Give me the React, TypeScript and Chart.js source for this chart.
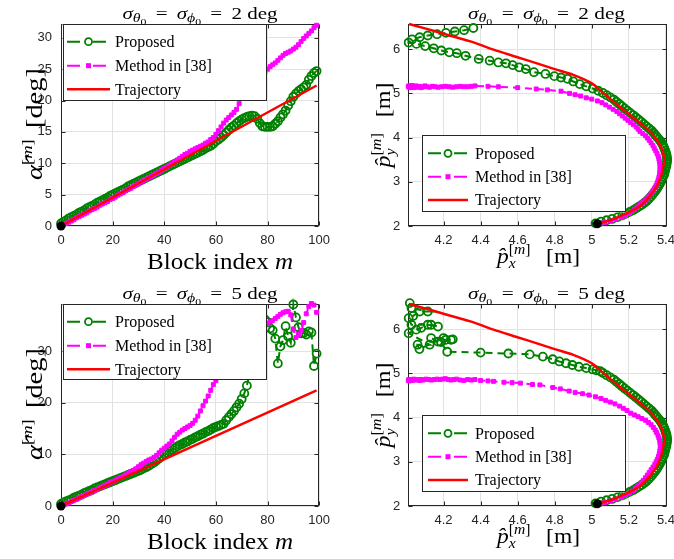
import React, { useEffect, useRef } from 'react';
import { Chart, registerables } from 'chart.js';

Chart.register(...registerables);

// ---------------- data ----------------
const blockIndex: number[] = Array.from({ length: 100 }, (_, i) => i);

const proposedAlpha2 = [
  0.4, 0.7, 0.9, 1.2, 1.4, 1.6, 1.8, 2.1, 2.3, 2.5,
  2.8, 3.0, 3.2, 3.4, 3.7, 3.9, 4.1, 4.3, 4.5, 4.8,
  5.0, 5.2, 5.4, 5.6, 5.8, 6.0, 6.3, 6.5, 6.7, 6.9,
  7.1, 7.3, 7.5, 7.7, 7.9, 8.1, 8.3, 8.5, 8.7, 8.9,
  9.1, 9.3, 9.5, 9.7, 9.9, 10.1, 10.3, 10.5, 10.7, 10.9,
  11.1, 11.3, 11.5, 11.7, 11.9, 12.1, 12.4, 12.6, 12.8, 13.1,
  13.5, 13.8, 14.1, 14.5, 14.9, 15.3, 15.7, 16.0, 16.4, 16.7,
  17.0, 17.2, 17.4, 17.5, 17.6, 17.5, 17.1, 16.4, 15.9, 15.8,
  15.8, 15.8, 15.9, 16.3, 16.7, 17.3, 17.8, 18.4, 19.2, 19.9,
  20.6, 21.1, 21.5, 21.8, 22.1, 22.5, 23.3, 23.9, 24.4, 24.7,
];
const methodAlpha2 = [
  0.0, 0.2, 0.4, 0.6, 0.8, 1.0, 1.3, 1.5, 1.7, 1.9,
  2.1, 2.4, 2.6, 2.8, 3.0, 3.3, 3.5, 3.7, 3.9, 4.2,
  4.4, 4.6, 4.9, 5.1, 5.3, 5.6, 5.8, 6.0, 6.3, 6.5,
  6.7, 7.0, 7.2, 7.4, 7.7, 7.9, 8.1, 8.4, 8.6, 8.9,
  9.2, 9.4, 9.7, 9.9, 10.2, 10.5, 10.8, 11.1, 11.4, 11.6,
  11.9, 12.1, 12.3, 12.5, 12.7, 12.9, 13.2, 13.4, 13.8, 14.1,
  14.6, 15.2, 15.8, 16.4, 16.9, 17.3, 17.7, 18.1, 18.6, 19.5,
  20.4, 21.1, 21.7, 22.2, 22.7, 23.1, 23.5, 23.8, 24.2, 24.6,
  25.0, 25.4, 25.7, 26.0, 26.4, 26.8, 27.2, 27.5, 27.7, 27.9,
  28.2, 28.5, 28.9, 29.4, 29.9, 30.3, 30.7, 31.1, 31.6, 32.0,
];
const proposedAlpha5 = [
  0.4, 0.7, 0.9, 1.1, 1.3, 1.6, 1.8, 2.0, 2.2, 2.5,
  2.7, 2.9, 3.1, 3.4, 3.6, 3.8, 4.0, 4.2, 4.4, 4.6,
  4.8, 5.0, 5.2, 5.4, 5.6, 5.8, 6.0, 6.2, 6.4, 6.6,
  6.8, 7.0, 7.3, 7.5, 7.8, 8.1, 8.4, 8.8, 9.2, 9.6,
  10.0, 10.3, 10.6, 10.9, 11.2, 11.5, 11.8, 12.0, 12.3, 12.5,
  12.8, 13.0, 13.3, 13.5, 13.8, 14.0, 14.3, 14.5, 14.8, 15.1,
  15.3, 15.5, 15.7, 15.9, 16.6, 17.2, 17.8, 18.4, 19.1, 19.8,
  20.7, 21.8, 23.3, 25.5, 28.0, 30.5, 32.8, 34.5, 35.5, 36.1,
  35.6, 34.4, 34.0, 32.4, 27.6, 30.9, 32.1, 34.8, 32.8, 31.6,
  39.0, 36.5, 34.6, 33.4, 33.5, 33.2, 33.8, 33.6, 27.1, 29.5,
];
const methodAlpha5 = [
  0.0, 0.2, 0.4, 0.6, 0.9, 1.1, 1.3, 1.6, 1.8, 2.0,
  2.3, 2.5, 2.7, 3.0, 3.2, 3.5, 3.7, 4.0, 4.2, 4.5,
  4.7, 5.0, 5.2, 5.5, 5.7, 6.0, 6.3, 6.6, 6.9, 7.2,
  7.6, 8.0, 8.3, 8.6, 8.9, 9.1, 9.4, 9.8, 10.3, 10.8,
  11.2, 11.6, 12.0, 12.6, 13.3, 13.9, 14.3, 14.7, 15.0, 15.3,
  15.6, 16.0, 16.6, 17.4, 18.4, 19.4, 20.3, 21.3, 22.4, 23.5,
  24.3, 25.0, 25.7, 26.4, 27.1, 27.8, 28.5, 29.2, 29.9, 30.5,
  31.1, 31.6, 32.1, 32.6, 33.0, 33.4, 33.8, 34.2, 34.6, 35.0,
  35.3, 35.6, 35.9, 36.3, 36.7, 37.1, 37.4, 37.6, 37.7, 37.0,
  34.2, 32.6, 33.2, 34.0, 35.5, 37.2, 38.6, 39.2, 38.9, 37.5,
];
const trajectoryM = [0, 99];
const trajectoryAlpha = [0, 22.4];

const trajectoryPx = [5.03, 5.10, 5.19, 5.26, 5.31, 5.35, 5.375, 5.388, 5.392, 5.385, 5.374, 5.35, 5.31, 5.24, 5.15, 5.064, 5.0, 4.9, 4.8, 4.7, 4.59, 4.47, 4.35, 4.2, 4.1, 4.014];
const trajectoryPy = [2.05, 2.13, 2.29, 2.45, 2.66, 2.9, 3.15, 3.4, 3.5, 3.65, 3.78, 3.95, 4.15, 4.40, 4.70, 5.0, 5.23, 5.42, 5.55, 5.685, 5.83, 5.99, 6.17, 6.35, 6.47, 6.57];

const proposedPx2 = [
  5.02, 5.05, 5.08, 5.11, 5.14, 5.165, 5.185, 5.205, 5.225, 5.24,
  5.255, 5.27, 5.283, 5.295, 5.307, 5.318, 5.328, 5.337, 5.346, 5.354,
  5.361, 5.368, 5.374, 5.379, 5.384, 5.39, 5.393, 5.396, 5.399, 5.402,
  5.404, 5.406, 5.407, 5.405, 5.403, 5.40, 5.396, 5.391, 5.386, 5.38,
  5.372, 5.363, 5.353, 5.343, 5.333, 5.322, 5.308, 5.294, 5.28, 5.266,
  5.252, 5.237, 5.222, 5.207, 5.192, 5.177, 5.162, 5.148, 5.133, 5.119,
  5.10, 5.08, 5.06, 5.035, 5.005, 4.97, 4.935, 4.90, 4.869, 4.834,
  4.798, 4.75, 4.688, 4.644, 4.608, 4.573, 4.537, 4.496, 4.449, 4.39,
  4.319, 4.272, 4.231, 4.188, 4.147, 4.101, 4.054, 4.012, 4.03, 4.071,
  4.115, 4.165, 4.213, 4.261, 4.311, 4.361,
];
const proposedPy2 = [
  2.06, 2.10, 2.13, 2.16, 2.20, 2.24, 2.28, 2.32, 2.36, 2.40,
  2.44, 2.48, 2.52, 2.56, 2.61, 2.66, 2.71, 2.76, 2.81, 2.86,
  2.91, 2.96, 3.01, 3.06, 3.11, 3.16, 3.21, 3.26, 3.31, 3.36,
  3.41, 3.46, 3.51, 3.56, 3.61, 3.66, 3.71, 3.76, 3.81, 3.86,
  3.91, 3.96, 4.01, 4.06, 4.11, 4.16, 4.21, 4.26, 4.31, 4.36,
  4.41, 4.46, 4.51, 4.56, 4.61, 4.66, 4.71, 4.76, 4.81, 4.86,
  4.91, 4.96, 5.01, 5.06, 5.11, 5.16, 5.21, 5.27, 5.33, 5.36,
  5.39, 5.44, 5.48, 5.55, 5.59, 5.64, 5.68, 5.70, 5.74, 5.78,
  5.85, 5.91, 5.93, 5.97, 6.02, 6.07, 6.12, 6.15, 6.22, 6.27,
  6.31, 6.34, 6.37, 6.40, 6.43, 6.48,
];
const methodPx2 = [
  5.04, 5.07, 5.10, 5.13, 5.16, 5.18, 5.20, 5.215, 5.23, 5.245,
  5.26, 5.275, 5.288, 5.30, 5.31, 5.32, 5.33, 5.34, 5.347, 5.353,
  5.358, 5.362, 5.365, 5.367, 5.368, 5.368, 5.367, 5.365, 5.362, 5.358,
  5.352, 5.345, 5.337, 5.33, 5.32, 5.31, 5.30, 5.29, 5.275, 5.26,
  5.25, 5.24, 5.225, 5.21, 5.195, 5.18, 5.165, 5.15, 5.135, 5.115,
  5.095, 5.075, 5.055, 5.03, 5.00, 4.97, 4.94, 4.91, 4.88, 4.834,
  4.76, 4.70, 4.60, 4.496, 4.44, 4.37, 4.35, 4.33, 4.31, 4.29,
  4.27, 4.25, 4.23, 4.21, 4.19, 4.17, 4.155, 4.14, 4.125, 4.11,
  4.10, 4.09, 4.08, 4.07, 4.06, 4.05, 4.045, 4.04, 4.035, 4.03,
  4.025, 4.02, 4.018, 4.015, 4.012, 4.01,
];
const methodPy2 = [
  2.05, 2.08, 2.11, 2.15, 2.19, 2.23, 2.28, 2.33, 2.38, 2.43,
  2.48, 2.53, 2.58, 2.63, 2.68, 2.74, 2.80, 2.86, 2.92, 2.98,
  3.04, 3.10, 3.16, 3.22, 3.28, 3.34, 3.40, 3.46, 3.52, 3.58,
  3.64, 3.70, 3.76, 3.82, 3.88, 3.94, 3.99, 4.04, 4.09, 4.14,
  4.19, 4.24, 4.29, 4.34, 4.39, 4.44, 4.49, 4.54, 4.59, 4.64,
  4.69, 4.74, 4.79, 4.83, 4.87, 4.90, 4.94, 4.97, 5.00, 5.05,
  5.08, 5.10, 5.13, 5.15, 5.16, 5.17, 5.16, 5.15, 5.15, 5.16,
  5.15, 5.14, 5.15, 5.16, 5.15, 5.14, 5.15, 5.16, 5.14, 5.15,
  5.17, 5.15, 5.13, 5.16, 5.14, 5.17, 5.15, 5.13, 5.16, 5.18,
  5.14, 5.16, 5.13, 5.17, 5.15, 5.16,
];
const proposedPx5 = [
  5.02, 5.05, 5.08, 5.11, 5.14, 5.165, 5.185, 5.205, 5.225, 5.24,
  5.255, 5.27, 5.283, 5.295, 5.307, 5.318, 5.328, 5.337, 5.346, 5.354,
  5.361, 5.368, 5.374, 5.379, 5.384, 5.39, 5.393, 5.396, 5.399, 5.402,
  5.404, 5.406, 5.407, 5.405, 5.403, 5.40, 5.396, 5.391, 5.386, 5.38,
  5.372, 5.363, 5.353, 5.343, 5.333, 5.322, 5.308, 5.294, 5.28, 5.266,
  5.252, 5.237, 5.222, 5.207, 5.192, 5.177, 5.162, 5.148, 5.133, 5.119,
  5.10, 5.08, 5.06, 5.046, 5.025, 5.005, 4.97, 4.93, 4.895, 4.861,
  4.825, 4.789, 4.736, 4.665, 4.55, 4.40, 4.22, 4.186, 4.212, 4.24,
  4.25, 4.17, 4.133, 4.20, 4.07, 4.06, 4.125, 4.012, 4.053, 4.08,
  4.115, 4.17, 4.133, 4.027, 4.012, 4.036, 4.071, 4.115, 4.027, 4.018,
];
const proposedPy5 = [
  2.06, 2.10, 2.13, 2.16, 2.20, 2.24, 2.28, 2.32, 2.36, 2.40,
  2.44, 2.48, 2.52, 2.56, 2.61, 2.66, 2.71, 2.76, 2.81, 2.86,
  2.91, 2.96, 3.01, 3.06, 3.11, 3.16, 3.21, 3.26, 3.31, 3.36,
  3.41, 3.46, 3.51, 3.56, 3.61, 3.66, 3.71, 3.76, 3.81, 3.86,
  3.91, 3.96, 4.01, 4.06, 4.11, 4.16, 4.21, 4.26, 4.31, 4.36,
  4.41, 4.46, 4.51, 4.56, 4.61, 4.66, 4.71, 4.76, 4.81, 4.86,
  4.91, 4.96, 5.01, 5.05, 5.07, 5.09, 5.12, 5.15, 5.19, 5.23,
  5.27, 5.32, 5.38, 5.43, 5.45, 5.47, 5.49, 5.71, 5.76, 5.76,
  5.77, 5.72, 5.80, 5.80, 5.55, 5.65, 5.65, 5.91, 5.99, 6.03,
  6.10, 6.06, 6.10, 6.10, 6.25, 6.30, 6.40, 6.40, 6.48, 6.59,
];
const methodPx5 = [
  5.04, 5.07, 5.10, 5.13, 5.16, 5.18, 5.20, 5.22, 5.235, 5.25,
  5.265, 5.278, 5.29, 5.30, 5.31, 5.32, 5.33, 5.34, 5.347, 5.354,
  5.36, 5.364, 5.367, 5.369, 5.37, 5.368, 5.366, 5.362, 5.357, 5.35,
  5.342, 5.332, 5.32, 5.305, 5.29, 5.27, 5.25, 5.23, 5.21, 5.19,
  5.17, 5.15, 5.125, 5.10, 5.075, 5.05, 5.02, 4.985, 4.95, 4.91,
  4.878, 4.83, 4.79, 4.72, 4.68, 4.615, 4.57, 4.526, 4.47, 4.44,
  4.40, 4.37, 4.35, 4.33, 4.31, 4.29, 4.27, 4.255, 4.24, 4.225,
  4.21, 4.195, 4.18, 4.165, 4.15, 4.135, 4.12, 4.105, 4.09, 4.08,
  4.07, 4.06, 4.05, 4.04, 4.035, 4.03, 4.025, 4.02, 4.016, 4.013,
  4.01,
];
const methodPy5 = [
  2.05, 2.08, 2.11, 2.15, 2.19, 2.24, 2.29, 2.34, 2.40, 2.46,
  2.52, 2.58, 2.64, 2.70, 2.76, 2.82, 2.88, 2.94, 3.00, 3.06,
  3.12, 3.18, 3.24, 3.30, 3.36, 3.42, 3.48, 3.54, 3.60, 3.66,
  3.72, 3.78, 3.84, 3.89, 3.94, 3.98, 4.02, 4.06, 4.10, 4.16,
  4.21, 4.26, 4.31, 4.35, 4.39, 4.43, 4.47, 4.51, 4.54, 4.57,
  4.60, 4.65, 4.68, 4.74, 4.75, 4.78, 4.79, 4.80, 4.82, 4.83,
  4.84, 4.86, 4.85, 4.86, 4.84, 4.85, 4.87, 4.86, 4.85, 4.86,
  4.88, 4.87, 4.86, 4.87, 4.86, 4.85, 4.86, 4.87, 4.85, 4.86,
  4.84, 4.86, 4.85, 4.87, 4.85, 4.84, 4.86, 4.85, 4.83, 4.86,
  4.84,
];

const legendLabels = ['Proposed', 'Method in [38]', 'Trajectory'];

// ---------------- styling ----------------
const GREEN = '#008000';
const MAGENTA = '#ff00ff';
const RED = '#ff0000';
const AXIS = '#262626';
const GRID = '#e2e2e2';
const SERIF = '"Liberation Serif", "Times New Roman", serif';
const SANS = '"Liberation Sans", Arial, sans-serif';

type Seg = { t?: string; s?: number; it?: boolean; dy?: number; sp?: number; mark?: boolean; back?: boolean; end?: boolean };
type TextPos = { x: number; y: number; w: number; rot?: boolean };
type LegendSpec = { x: number; y: number; w: number; h: number; rows: number[]; x1: number; x2: number; tx: number };
type Area = { l: number; t: number; r: number; b: number };
type PanelSpec = {
  left: number; top: number; width: number; height: number; area: Area;
  xMin: number; xMax: number; xStep: number; yMin: number; yMax: number; yStep: number;
  xDecimals: boolean; yPad: number;
  datasets: any[];
  title: Seg[]; titlePos: TextPos; xlabel: Seg[]; xlabelPos: TextPos; ylabel: Seg[]; ylabelPos: TextPos;
  legend: LegendSpec;
};

const pts = (xs: number[], ys: number[]) => xs.map((x, i) => ({ x, y: ys[i] }));

function seriesSets(prop: any[], meth: any[], traj: any[], start: any[]) {
  return [
    { label: 'start', data: start, showLine: false, pointRadius: 4.5, pointBackgroundColor: '#000', pointBorderColor: '#000', pointBorderWidth: 0, clip: false },
    { label: legendLabels[2], data: traj, borderColor: RED, borderWidth: 2.5, pointRadius: 0, tension: 0.3, clip: 6 },
    { label: legendLabels[1], data: meth, borderColor: MAGENTA, borderWidth: 2, borderDash: [7, 5], pointStyle: 'rect', pointRadius: 2.8, pointBorderWidth: 1, pointBackgroundColor: MAGENTA, pointBorderColor: MAGENTA, clip: 6 },
    { label: legendLabels[0], data: prop, borderColor: GREEN, borderWidth: 2, borderDash: [7, 5], pointStyle: 'circle', pointRadius: 4, pointBorderWidth: 1.8, pointBackgroundColor: 'rgba(0,0,0,0)', pointBorderColor: GREEN, clip: 6 },
  ];
}

function titleSegs(n: string): Seg[] {
  return [
    { t: 'σ', s: 16, it: true }, { t: 'θ', s: 12, it: true, dy: 3 }, { t: '0', s: 9, dy: 6 },
    { sp: 7 }, { t: '=', s: 16 }, { sp: 7 },
    { t: 'σ', s: 16, it: true }, { t: 'ϕ', s: 12, it: true, dy: 3 }, { t: '0', s: 9, dy: 6 },
    { sp: 7 }, { t: '=', s: 16 }, { sp: 7 },
    { t: n, s: 16 }, { sp: 4 }, { t: 'deg', s: 16 },
  ];
}
const xlabelBlock: Seg[] = [{ t: 'Block index ', s: 24 }, { t: 'm', s: 24, it: true }];
const ylabelAlpha: Seg[] = [
  { t: 'α\u0302', s: 23, it: true },
  { t: '[', s: 15, dy: -10 }, { t: 'm', s: 15, it: true, dy: -10 }, { t: ']', s: 15, dy: -10 },
  { sp: 9 }, { t: '[deg]', s: 23 },
];
function posLabel(c: string): Seg[] {
  return [
    { t: 'p\u0302', s: 21, it: true },
    { mark: true }, { t: c, s: 14, it: true, dy: 5 }, { back: true },
    { t: '[', s: 14, dy: -9 }, { t: 'm', s: 14, it: true, dy: -9 }, { t: ']', s: 14, dy: -9 }, { end: true },
    { sp: 14 }, { t: '[m]', s: 21 },
  ];
}

const LEFT_AREA: Area = { l: 61, t: 24, r: 325, b: 226 };
const RIGHT_AREA: Area = { l: 71.3, t: 24, r: 334, b: 226 };
const LEFT_LEGEND: LegendSpec = { x: 62.5, y: 24, w: 204, h: 77, rows: [41.7, 65.7, 89.3], x1: 67, x2: 110, tx: 115 };
const RIGHT_LEGEND: LegendSpec = { x: 84.7, y: 135, w: 204.3, h: 77.3, rows: [153.3, 176.7, 200], x1: 91, x2: 131, tx: 138 };

const startAlpha = [{ x: trajectoryM[0], y: trajectoryAlpha[0] }];
const startPos = [{ x: trajectoryPx[0], y: trajectoryPy[0] }];

const SPECS: PanelSpec[] = [
  {
    left: 0, top: 0, width: 337, height: 280, area: LEFT_AREA,
    xMin: 0, xMax: 100, xStep: 20, yMin: 0, yMax: 32.2, yStep: 5, xDecimals: false, yPad: 9,
    datasets: seriesSets(pts(blockIndex, proposedAlpha2), pts(blockIndex, methodAlpha2), pts(trajectoryM, trajectoryAlpha), startAlpha),
    title: titleSegs('2'), titlePos: { x: 200, y: 18.5, w: 155 },
    xlabel: xlabelBlock, xlabelPos: { x: 220, y: 269, w: 146 },
    ylabel: ylabelAlpha, ylabelPos: { x: 42, y: 124, w: 112, rot: true },
    legend: LEFT_LEGEND,
  },
  {
    left: 337, top: 0, width: 345, height: 280, area: RIGHT_AREA,
    xMin: 4.01, xMax: 5.405, xStep: 0.2, yMin: 2, yMax: 6.57, yStep: 1, xDecimals: true, yPad: 8,
    datasets: seriesSets(pts(proposedPx2, proposedPy2), pts(methodPx2, methodPy2), pts(trajectoryPx, trajectoryPy), startPos),
    title: titleSegs('2'), titlePos: { x: 209.5, y: 18.5, w: 157 },
    xlabel: posLabel('x'), xlabelPos: { x: 201.5, y: 263, w: 83 },
    ylabel: posLabel('y'), ylabelPos: { x: 53, y: 125, w: 85, rot: true },
    legend: RIGHT_LEGEND,
  },
  {
    left: 0, top: 280, width: 337, height: 279, area: LEFT_AREA,
    xMin: 0, xMax: 100, xStep: 20, yMin: 0, yMax: 39.1, yStep: 10, xDecimals: false, yPad: 9,
    datasets: seriesSets(pts(blockIndex, proposedAlpha5), pts(blockIndex, methodAlpha5), pts(trajectoryM, trajectoryAlpha), startAlpha),
    title: titleSegs('5'), titlePos: { x: 200, y: 18.5, w: 155 },
    xlabel: xlabelBlock, xlabelPos: { x: 220, y: 269, w: 146 },
    ylabel: ylabelAlpha, ylabelPos: { x: 42, y: 124, w: 112, rot: true },
    legend: { ...LEFT_LEGEND, h: 76 },
  },
  {
    left: 337, top: 280, width: 345, height: 279, area: RIGHT_AREA,
    xMin: 4.01, xMax: 5.405, xStep: 0.2, yMin: 2, yMax: 6.57, yStep: 1, xDecimals: true, yPad: 8,
    datasets: seriesSets(pts(proposedPx5, proposedPy5), pts(methodPx5, methodPy5), pts(trajectoryPx, trajectoryPy), startPos),
    title: titleSegs('5'), titlePos: { x: 209.5, y: 18.5, w: 157 },
    xlabel: posLabel('x'), xlabelPos: { x: 201.5, y: 263, w: 83 },
    ylabel: posLabel('y'), ylabelPos: { x: 53, y: 125, w: 85, rot: true },
    legend: RIGHT_LEGEND,
  },
];

// ---------------- drawing helpers ----------------
function segFont(g: Seg) {
  return `${g.it ? 'italic ' : ''}${g.s}px ${SERIF}`;
}
function drawRich(ctx: CanvasRenderingContext2D, segs: Seg[], pos: TextPos) {
  ctx.save();
  ctx.translate(pos.x, pos.y);
  if (pos.rot) ctx.rotate(-Math.PI / 2);
  let x = 0, mark = 0, maxX = 0;
  const items: { g: Seg; x: number }[] = [];
  for (const g of segs) {
    if (g.mark) { mark = x; maxX = x; continue; }
    if (g.back) { maxX = Math.max(maxX, x); x = mark; continue; }
    if (g.end) { x = Math.max(maxX, x); continue; }
    if (g.sp !== undefined) { x += g.sp; continue; }
    ctx.font = segFont(g);
    const w = ctx.measureText(g.t || '').width;
    items.push({ g, x });
    x += w;
  }
  const width = x;
  ctx.scale(pos.w / width, 1);
  ctx.fillStyle = '#000';
  ctx.textAlign = 'left';
  ctx.textBaseline = 'alphabetic';
  for (const it of items) {
    ctx.font = segFont(it.g);
    ctx.fillText(it.g.t || '', it.x - width / 2, it.g.dy || 0);
  }
  ctx.restore();
}

function drawLegend(ctx: CanvasRenderingContext2D, L: LegendSpec) {
  ctx.save();
  ctx.fillStyle = '#ffffff';
  ctx.fillRect(L.x, L.y, L.w, L.h);
  ctx.strokeStyle = AXIS;
  ctx.lineWidth = 1;
  ctx.setLineDash([]);
  ctx.strokeRect(Math.round(L.x) + 0.5, Math.round(L.y) + 0.5, Math.round(L.w) - 1, Math.round(L.h) - 1);
  const colors = [GREEN, MAGENTA, RED];
  legendLabels.forEach((label, i) => {
    const y = L.rows[i];
    const xm = (L.x1 + L.x2) / 2;
    ctx.strokeStyle = colors[i];
    ctx.lineWidth = i === 2 ? 2.5 : 2;
    ctx.setLineDash(i === 2 ? [] : [13, 13]);
    ctx.beginPath();
    ctx.moveTo(L.x1, y);
    ctx.lineTo(L.x2, y);
    ctx.stroke();
    ctx.setLineDash([]);
    if (i === 0) {
      ctx.fillStyle = '#fff';
      ctx.lineWidth = 1.8;
      ctx.beginPath();
      ctx.arc(xm, y, 3.5, 0, Math.PI * 2);
      ctx.fill();
      ctx.stroke();
    } else if (i === 1) {
      ctx.fillStyle = MAGENTA;
      ctx.fillRect(xm - 2.5, y - 2.5, 5, 5);
    }
    ctx.fillStyle = '#000';
    ctx.font = `16px ${SERIF}`;
    ctx.textAlign = 'left';
    ctx.textBaseline = 'middle';
    ctx.fillText(label, L.tx, y + 1);
  });
  ctx.restore();
}

function makeDecor(spec: PanelSpec) {
  return {
    id: 'decor',
    beforeDatasetsDraw(chart: any) {
      const ctx: CanvasRenderingContext2D = chart.ctx;
      const a = chart.chartArea;
      const L = Math.round(a.left) + 0.5, R = Math.round(a.right) - 0.5;
      const T = Math.round(a.top) + 0.5, B = Math.round(a.bottom) - 0.5;
      ctx.save();
      ctx.strokeStyle = AXIS;
      ctx.lineWidth = 1;
      ctx.strokeRect(L, T, R - L, B - T);
      const xs = chart.scales.x, ys = chart.scales.y;
      ctx.beginPath();
      xs.ticks.forEach((t: any) => {
        const p = Math.round(xs.getPixelForValue(t.value)) + 0.5;
        ctx.moveTo(p, B); ctx.lineTo(p, B - 4);
        ctx.moveTo(p, T); ctx.lineTo(p, T + 4);
      });
      ys.ticks.forEach((t: any) => {
        const p = Math.round(ys.getPixelForValue(t.value)) + 0.5;
        ctx.moveTo(L, p); ctx.lineTo(L + 4, p);
        ctx.moveTo(R, p); ctx.lineTo(R - 4, p);
      });
      ctx.stroke();
      ctx.restore();
    },
    afterDatasetsDraw(chart: any) {
      drawLegend(chart.ctx, spec.legend);
    },
    afterDraw(chart: any) {
      const ctx: CanvasRenderingContext2D = chart.ctx;
      drawRich(ctx, spec.title, spec.titlePos);
      drawRich(ctx, spec.xlabel, spec.xlabelPos);
      drawRich(ctx, spec.ylabel, spec.ylabelPos);
    },
  };
}

function buildConfig(spec: PanelSpec): any {
  const a = spec.area;
  const tickFont = { family: SANS, size: 13 };
  return {
    type: 'line',
    data: { datasets: spec.datasets },
    options: {
      animation: false,
      responsive: false,
      events: [],
      layout: { padding: { left: 0, top: a.t, right: spec.width - a.r, bottom: 0 } },
      plugins: { legend: { display: false }, tooltip: { enabled: false }, title: { display: false } },
      scales: {
        x: {
          type: 'linear', min: spec.xMin, max: spec.xMax,
          grid: { color: GRID, drawTicks: false, lineWidth: 1 },
          border: { display: false },
          ticks: {
            stepSize: spec.xStep, includeBounds: false, autoSkip: false, maxRotation: 0,
            color: AXIS, font: tickFont, padding: 7,
            callback: (v: number) => (spec.xDecimals ? String(Math.round(v * 10) / 10) : String(Math.round(v))),
          },
          afterFit: (s: any) => { s.height = spec.height - a.b; },
        },
        y: {
          type: 'linear', min: spec.yMin, max: spec.yMax,
          grid: { color: GRID, drawTicks: false, lineWidth: 1 },
          border: { display: false },
          ticks: {
            stepSize: spec.yStep, includeBounds: false, autoSkip: false,
            color: AXIS, font: tickFont, padding: spec.yPad,
            callback: (v: number) => String(Math.round(v)),
          },
          afterFit: (s: any) => { s.width = a.l; },
        },
      },
    },
    plugins: [makeDecor(spec)],
  };
}

function Panel({ spec }: { spec: PanelSpec }) {
  const ref = useRef<HTMLCanvasElement>(null);
  useEffect(() => {
    const canvas = ref.current;
    if (!canvas) return;
    const chart = new Chart(canvas, buildConfig(spec));
    return () => chart.destroy();
  }, [spec]);
  return (
    <canvas
      ref={ref}
      width={spec.width}
      height={spec.height}
      style={{ position: 'absolute', left: spec.left, top: spec.top, width: spec.width, height: spec.height }}
    />
  );
}

export default function App() {
  return (
    <div style={{ position: 'fixed', left: 0, top: 0, width: 674, height: 559, overflow: 'hidden', background: '#ffffff' }}>
      {SPECS.map((s, i) => (
        <Panel key={i} spec={s} />
      ))}
    </div>
  );
}
